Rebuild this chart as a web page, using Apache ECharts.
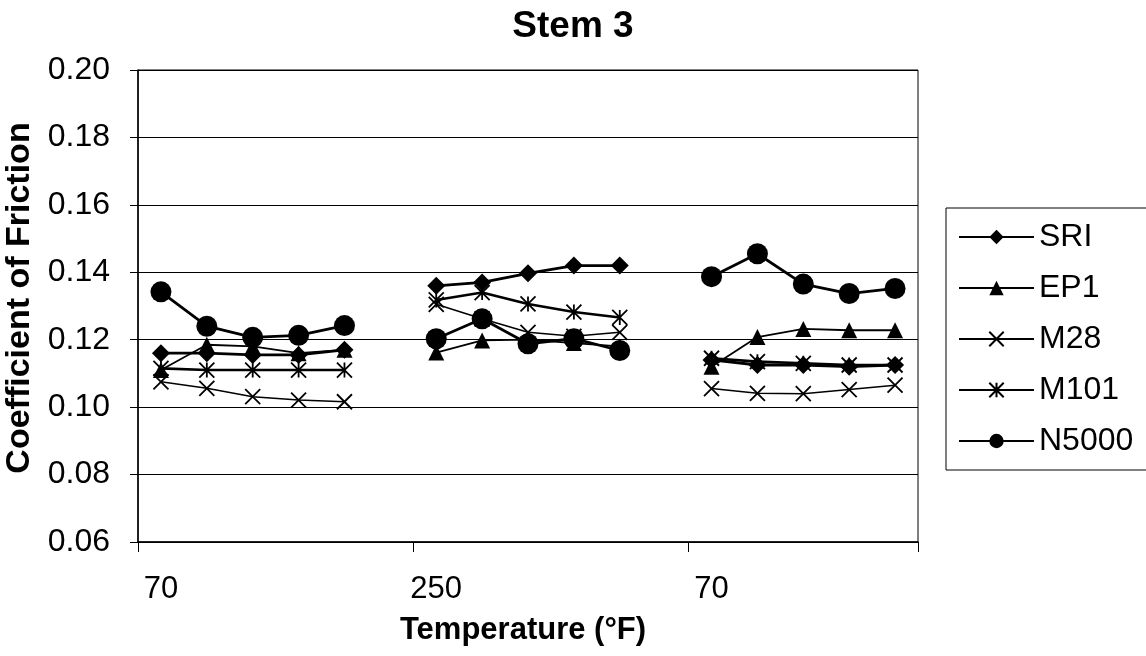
<!DOCTYPE html>
<html>
<head>
<meta charset="utf-8">
<script src="https://cdn.jsdelivr.net/npm/echarts@6/dist/echarts.min.js"></script>
<style>
html,body{margin:0;padding:0;background:#fff;}
#chart{width:1146px;height:656px;}
</style>
</head>
<body>
<div id="chart"></div>
<script>
// 17 category slots: 3 groups of 5 tests, separated by an empty slot
const categories = ['1','2','3','4','5','gap1','6','7','8','9','10','gap2','11','12','13','14','15'];
const groupLabels = ['70', '250', '70'];
const yTicks = [0.06, 0.08, 0.10, 0.12, 0.14, 0.16, 0.18, 0.20];

const sri   = [0.116, 0.116, 0.1155, 0.1155, 0.117, null, 0.136, 0.137, 0.1397, 0.142, 0.142, null, 0.114, 0.1125, 0.1125, 0.112, 0.1125];
const ep1   = [0.111, 0.1185, 0.118, 0.116, 0.117, null, 0.1162, 0.1198, 0.120, 0.119, 0.118, null, 0.112, 0.1208, 0.1232, 0.1228, 0.1228];
const m28   = [0.1075, 0.1056, 0.1031, 0.1021, 0.1016, null, 0.1305, 0.1262, 0.1222, 0.121, 0.1222, null, 0.1055, 0.1041, 0.104, 0.1052, 0.1065];
const m101  = [0.1115, 0.111, 0.111, 0.111, 0.111, null, 0.1318, 0.134, 0.1306, 0.1282, 0.1266, null, 0.1145, 0.1135, 0.113, 0.1125, 0.1125];
const n5000 = [0.1342, 0.124, 0.1207, 0.1213, 0.1242, null, 0.1203, 0.1262, 0.1188, 0.1203, 0.1168, null, 0.1387, 0.1455, 0.1365, 0.1337, 0.1352];

const seriesNames = ['SRI', 'EP1', 'M28', 'M101', 'N5000'];

const FONT = 'Liberation Sans, Arial, sans-serif';
const crossPath = 'path://M0,0L10,10M10,0L0,10';
const starPath = 'path://M5,0L5,10M0,0L10,10M10,0L0,10';

function mk(name, data, symbol, size, lw, strokeSym) {
  const s = {
    name: name, type: 'line', data: data, symbol: symbol, symbolSize: size,
    connectNulls: false, showAllSymbol: true, animation: false,
    lineStyle: { color: '#000', width: lw },
    itemStyle: { color: '#000' },
    emphasis: { disabled: true }
  };
  if (strokeSym) {
    s.itemStyle = { color: 'none', borderColor: '#000', borderWidth: 1.8 };
  }
  return s;
}

const chart = echarts.init(document.getElementById('chart'), null, { renderer: 'canvas' });
chart.setOption({
  backgroundColor: '#fff',
  animation: false,
  textStyle: { fontFamily: FONT, color: '#000' },
  title: {
    text: 'Stem 3', left: 'center', top: 3,
    textStyle: { fontFamily: FONT, fontSize: 37, fontWeight: 'bold', color: '#000' }
  },
  grid: {
    left: 138, top: 70, right: 228, bottom: 114,
    outerBoundsMode: 'none', containLabel: false,
    show: true, borderColor: '#000', borderWidth: 1, backgroundColor: 'transparent'
  },
  legend: {
    orient: 'vertical', left: 946, top: 208,
    data: seriesNames,
    itemWidth: 75, itemHeight: 18, itemGap: 19,
    padding: [13, 30, 13, 12],
    borderColor: '#000', borderWidth: 1,
    textStyle: { fontFamily: FONT, fontSize: 32, color: '#000', padding: [0, 0, 0, 0] }
  },
  xAxis: {
    type: 'category', data: categories, boundaryGap: true,
    name: 'Temperature (°F)', nameLocation: 'middle', nameGap: 73,
    nameTextStyle: { fontFamily: FONT, fontSize: 31, fontWeight: 'bold', color: '#000', padding: [0, 10, 0, 0] },
    axisLine: { lineStyle: { color: '#000', width: 1.5 } },
    axisTick: { show: true, length: 10, interval: function (i) { return i % 6 === 0; }, lineStyle: { color: '#000' } },
    axisLabel: {
      interval: function (i) { return i % 6 === 0; },
      formatter: function (v, i) { return i % 6 === 0 ? groupLabels[i / 6] : ''; },
      fontFamily: FONT, fontSize: 31, color: '#000', margin: 32
    },
    splitLine: { show: false }
  },
  yAxis: {
    type: 'value', min: yTicks[0], max: yTicks[yTicks.length - 1], interval: 0.02,
    name: 'Coefficient of Friction', nameLocation: 'middle', nameGap: 95, nameRotate: 90,
    nameTextStyle: { fontFamily: FONT, fontSize: 34, fontWeight: 'bold', color: '#000', padding: [0, 0, 0, 16] },
    axisLine: { show: true, lineStyle: { color: '#000', width: 1.5 } },
    axisTick: { show: true, length: 8, lineStyle: { color: '#000' } },
    axisLabel: {
      formatter: function (v) { return v.toFixed(2); },
      fontFamily: FONT, fontSize: 32, color: '#000', margin: 28
    },
    splitLine: { show: true, lineStyle: { color: '#000', width: 1 } }
  },
  series: [
    mk('SRI', sri, 'diamond', 18, 2.8, false),
    mk('EP1', ep1, 'triangle', 16, 1.8, false),
    mk('M28', m28, crossPath, 15, 1.5, true),
    mk('M101', m101, starPath, 15, 2.6, true),
    mk('N5000', n5000, 'circle', 21, 2.8, false)
  ]
});
</script>
</body>
</html>
